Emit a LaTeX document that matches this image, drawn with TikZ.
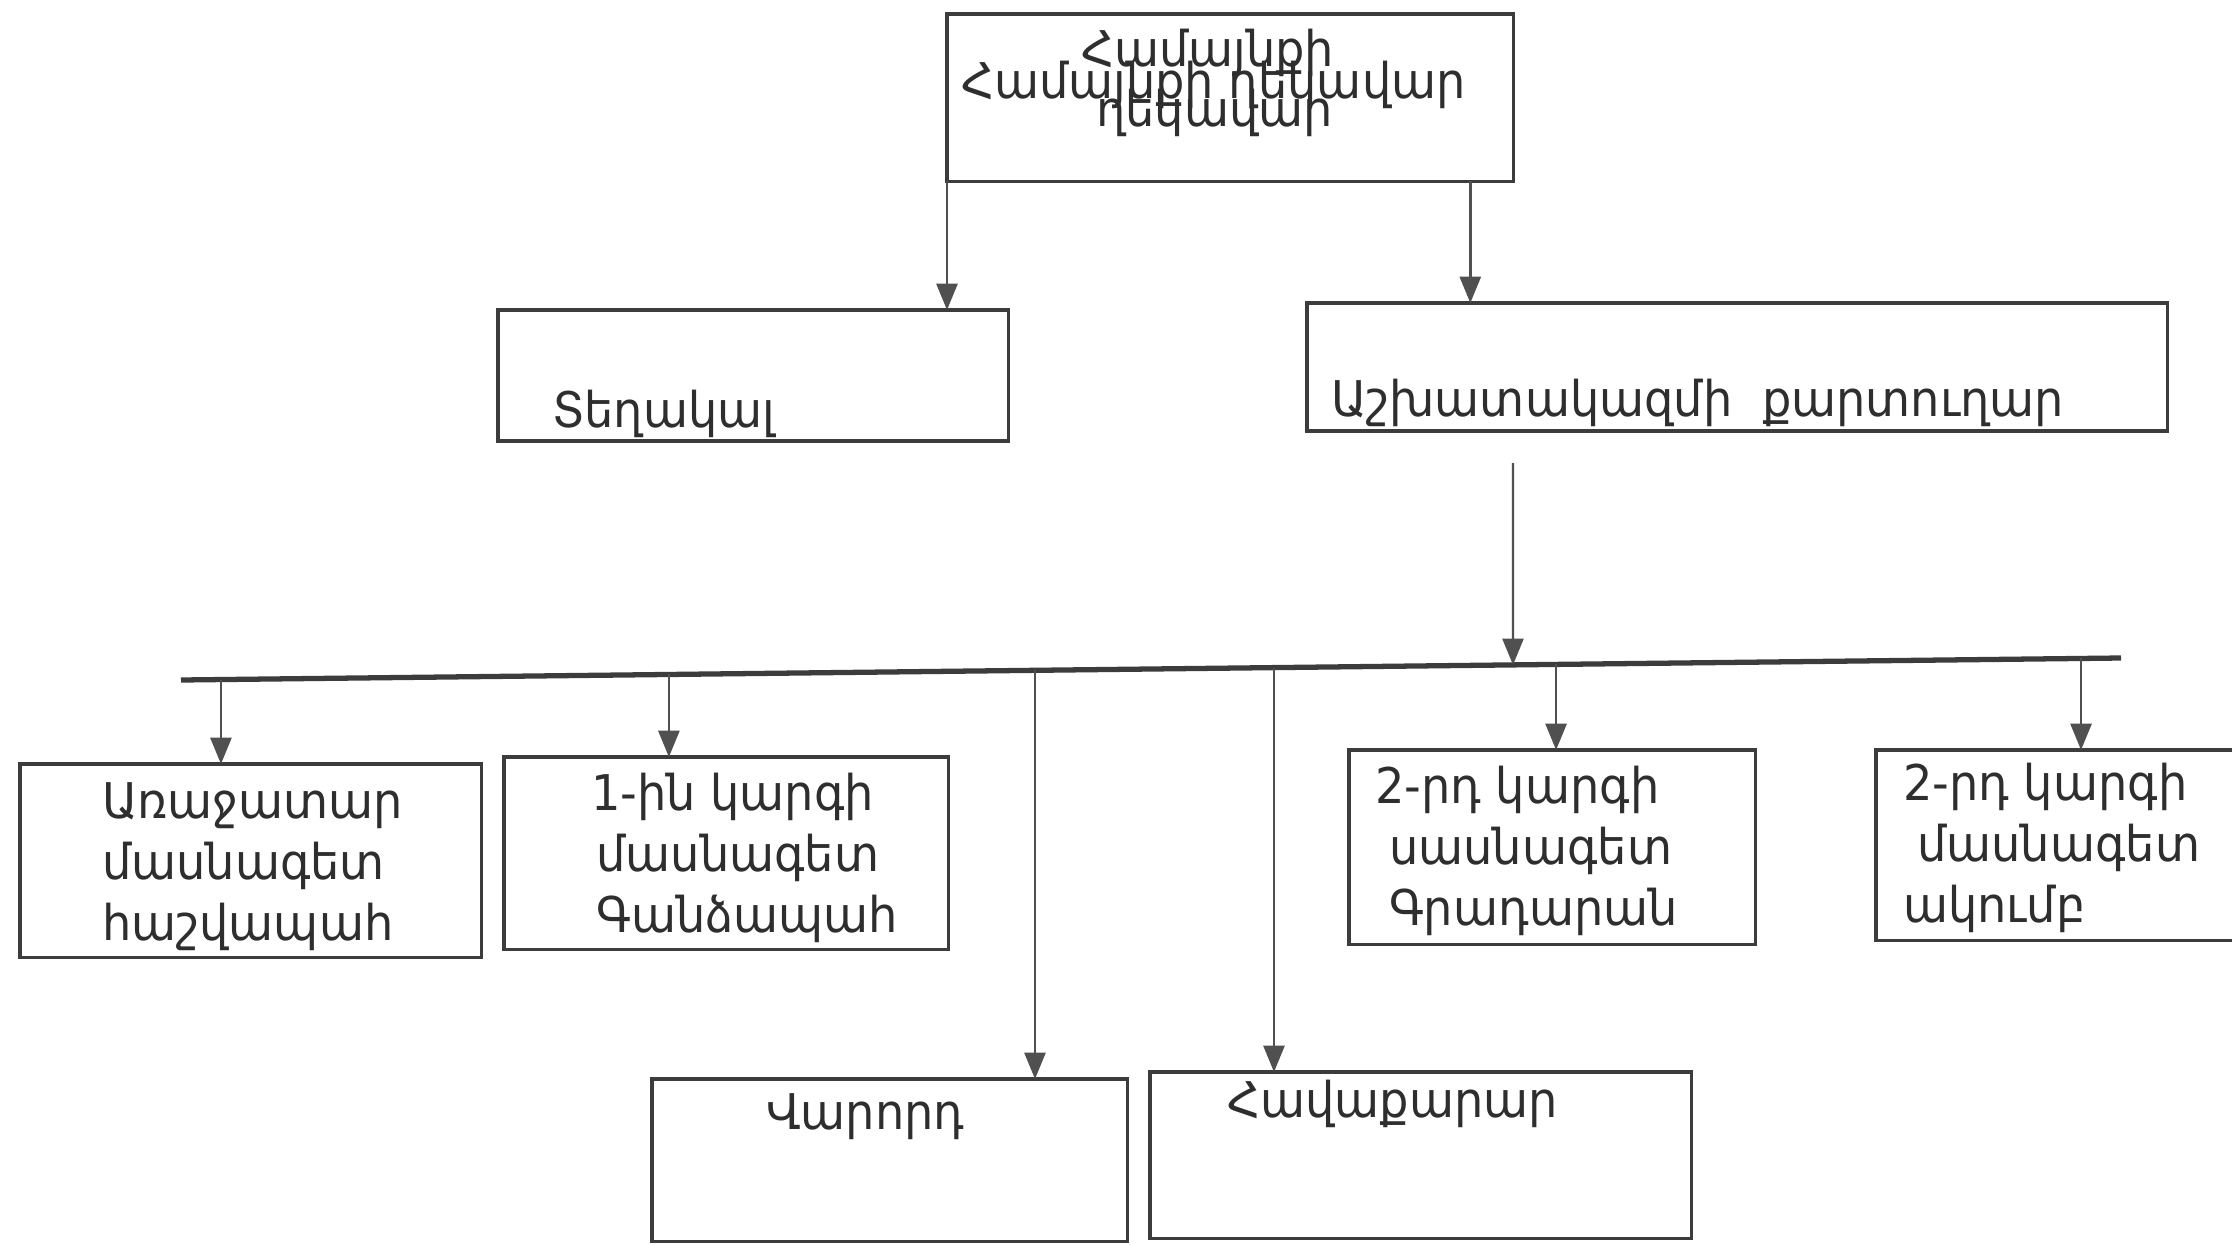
\documentclass[tikz,border=0pt]{standalone}
\usepackage{fontspec}
\setmainfont[FakeStretch=0.94]{DejaVu Sans}
\usetikzlibrary{arrows.meta,calc}
\definecolor{ink}{HTML}{2E2E2E}
\definecolor{edge}{HTML}{3C3C3C}
\definecolor{conn}{HTML}{505050}
\tikzset{
  box/.style={draw=edge, line width=0.9pt, inner sep=0pt, outer sep=0pt, anchor=north west},
  txt/.style={inner sep=0pt, outer sep=0pt, text=ink, anchor=base west, align=left,
    font=\fontsize{14pt}{17.3pt}\selectfont},
  arr/.style={draw=conn, line width=0.7pt, -{Triangle[length=7.5pt,width=6pt]}},
  bus/.style={draw=edge, line width=1.5pt},
}
\begin{document}
\begin{tikzpicture}[x=0.01cm,y=-0.01cm]
\useasboundingbox (0,0) rectangle (2232,1245);
\clip (0,0) rectangle (2232,1245);
% boxes
\node[box, minimum width=5.66cm, minimum height=1.67cm] (top) at (947,14) {};
\node[box, minimum width=5.10cm, minimum height=1.31cm] (dep) at (498,310) {};
\node[box, minimum width=8.60cm, minimum height=1.28cm] (sec) at (1307,303) {};
\node[box, minimum width=4.61cm, minimum height=1.93cm] (b1) at (20,764) {};
\node[box, minimum width=4.44cm, minimum height=1.92cm] (b2) at (504,757) {};
\node[box, minimum width=4.06cm, minimum height=1.94cm] (b3) at (1349,750) {};
\node[box, minimum width=3.75cm, minimum height=1.90cm] (b4) at (1876,750) {};
\node[box, minimum width=4.75cm, minimum height=1.62cm] (drv) at (652,1079) {};
\node[box, minimum width=5.41cm, minimum height=1.66cm] (cln) at (1150,1072) {};
% texts
\node[txt] (t0a) at (1081,66) {Համայնքի};
\node[txt] (t0b) at (961,98) {Համայնքի ղեկավար};
\node[txt] (t0c) at (1096,126) {ղեկավար};
\node[txt] (tdep) at (552,427) {Տեղակալ};
\node[txt] (tsec) at (1331,416) {Աշխատակազմի\ \ քարտուղար};
\node[txt] (t1) at (102,940) {Առաջատար\\մասնագետ\\հաշվապահ};
\node[txt] (t2) at (591,932) {1-ին կարգի\\\hspace*{1.5pt}մասնագետ\\\hspace*{1.5pt}Գանձապահ};
\node[txt] (t3) at (1375,925) {2-րդ կարգի\\\hspace*{4pt}սասնագետ\\\hspace*{4pt}Գրադարան};
\node[txt] (t4) at (1903,922) {2-րդ կարգի\\\hspace*{4pt}մասնագետ\\ակումբ};
\node[txt] (tdrv) at (766,1129) {Վարորդ};
\node[txt] (tcln) at (1227,1117) {Հավաքարար};
% bus
\coordinate (busL) at (181,680);
\coordinate (busR) at (2121,658);
\draw[bus] (busL) -- (busR);
\coordinate (secout) at (1513,463);
% connectors
\draw[arr] (top.south west) -- (top.south west |- dep.north);
\draw[arr] ([xshift=-0.43cm]top.south east) -- ([xshift=-0.43cm]top.south east |- sec.north);
\coordinate (jm) at ($(busL)!0.6866!(busR)$);
\draw[arr] (secout) -- (jm);
\coordinate (d1) at ($(busL)!0.0206!(busR)$);
\coordinate (d2) at ($(busL)!0.2515!(busR)$);
\coordinate (d3) at ($(busL)!0.4402!(busR)$);
\coordinate (d4) at ($(busL)!0.5634!(busR)$);
\coordinate (d5) at ($(busL)!0.7088!(busR)$);
\coordinate (d6) at ($(busL)!0.9794!(busR)$);
\draw[arr] (d1) -- (d1 |- b1.north);
\draw[arr] (d2) -- (d2 |- b2.north);
\draw[arr] (d3) -- (d3 |- drv.north);
\draw[arr] (d4) -- (d4 |- cln.north);
\draw[arr] (d5) -- (d5 |- b3.north);
\draw[arr] (d6) -- (d6 |- b4.north);
\end{tikzpicture}
\end{document}
